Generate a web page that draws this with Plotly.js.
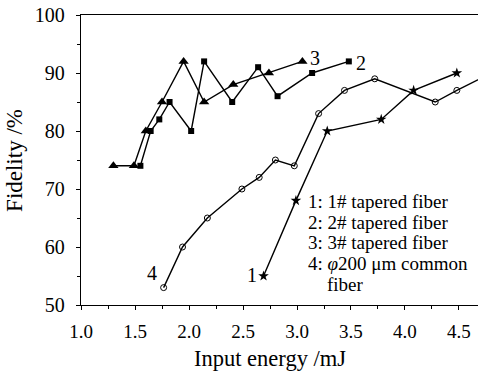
<!DOCTYPE html>
<html><head><meta charset="utf-8">
<script src="https://cdn.plot.ly/plotly-3.0.1.min.js"></script>
<style>html,body{margin:0;padding:0;background:#fff}#c{width:478px;height:378px}</style>
</head><body><div id="c"></div>
<script>
// Series 1: 1# tapered fiber (stars)
const s1x = [2.69, 2.99, 3.28, 3.78, 4.08, 4.48];
const s1y = [55, 68, 80, 82, 87, 90];
// Series 2: 2# tapered fiber (squares)
const s2x = [1.55, 1.645, 1.725, 1.82, 2.02, 2.14, 2.40, 2.64, 2.82, 3.14, 3.48];
const s2y = [74, 80, 82, 85, 80, 92, 85, 91, 86, 90, 92];
// Series 3: 3# tapered fiber (triangles)
const s3x = [1.30, 1.49, 1.60, 1.75, 1.95, 2.14, 2.41, 2.74, 3.05];
const s3y = [74, 74, 80, 85, 92, 85, 88, 90, 92];
// Series 4: phi200 um common fiber (open circles)
const s4x = [1.765, 1.94, 2.17, 2.49, 2.65, 2.80, 2.975, 3.20, 3.44, 3.72, 4.28, 4.48, 4.80];
const s4y = [53, 60, 65, 70, 72, 75, 74, 83, 87, 89, 85, 87, 90];

const legendLines = ["1: 1# tapered fiber", "2: 2# tapered fiber", "3: 3# tapered fiber", "4: <i>φ</i>200 μm common", "    fiber"];
const xTickVals = [1, 1.5, 2, 2.5, 3, 3.5, 4, 4.5];
const xTickText = ["1.0", "1.5", "2.0", "2.5", "3.0", "3.5", "4.0", "4.5"];

const F = "Liberation Serif";
const line = {color:"#000", width:1.4};
const traces = [
  {x:s4x, y:s4y, mode:"lines+markers", line, marker:{symbol:"circle-open", size:6, color:"#000", line:{width:1}}},
  {x:s1x, y:s1y, mode:"lines+markers", line, marker:{symbol:"star", size:8, color:"#000"}},
  {x:s2x, y:s2y, mode:"lines+markers", line, marker:{symbol:"square", size:6, color:"#000"}},
  {x:s3x, y:s3y, mode:"lines+markers", line, marker:{symbol:"triangle-up", size:9, color:"#000"}}
];
const ann = [
  {x:3.10, y:92.6, text:"3", xanchor:"left", yanchor:"middle"},
  {x:3.53, y:91.8, text:"2", xanchor:"left", yanchor:"middle"},
  {x:1.72, y:55.5, text:"4", xanchor:"right", yanchor:"middle"},
  {x:2.65, y:55.2, text:"1", xanchor:"right", yanchor:"middle"}
].map(a => Object.assign(a, {xref:"x", yref:"y", showarrow:false, font:{family:F, size:20, color:"#000"}}));
legendLines.forEach((t, i) => ann.push({x:3.08, y:67.9 - i*3.6, xref:"x", yref:"y", text:t, showarrow:false,
  xanchor:"left", yanchor:"middle", font:{family:F, size:19, color:"#000"}}));
ann.push({xref:"paper", yref:"paper", x:-0.169, y:0.5, text:"Fidelity /%", textangle:-90, showarrow:false,
  xanchor:"center", yanchor:"middle", font:{family:F, size:23, color:"#000"}});
ann.push({xref:"paper", yref:"paper", x:0.476, y:-0.183, text:"Input energy /mJ", showarrow:false,
  xanchor:"center", yanchor:"middle", font:{family:F, size:22.5, color:"#000"}});

const layout = {
  width:478, height:378, margin:{l:81, r:0, t:15, b:73},
  paper_bgcolor:"#fff", plot_bgcolor:"#fff", showlegend:false,
  font:{family:F, size:19, color:"#000"},
  xaxis:{range:[1.0, 4.676], tickvals:xTickVals, ticktext:xTickText,
    showgrid:false, zeroline:false, showline:true, linecolor:"#000", linewidth:1.2, mirror:true,
    ticks:"outside", ticklen:4, tickcolor:"#000", tickfont:{family:F, size:19, color:"#000"}, ticklabelstandoff:5,
    minor:{dtick:0.25, ticks:"outside", ticklen:3, tickcolor:"#000"}},
  yaxis:{range:[50, 100], dtick:10, showgrid:false, zeroline:false, showline:true, linecolor:"#000", linewidth:1.2,
    ticks:"outside", ticklen:4, tickcolor:"#000", tickfont:{family:F, size:20, color:"#000"}, ticklabelstandoff:7,
    minor:{dtick:5, ticks:"outside", ticklen:3, tickcolor:"#000"}},
  annotations:ann
};
Plotly.newPlot("c", traces, layout, {displayModeBar:false, staticPlot:true});
</script></body></html>
